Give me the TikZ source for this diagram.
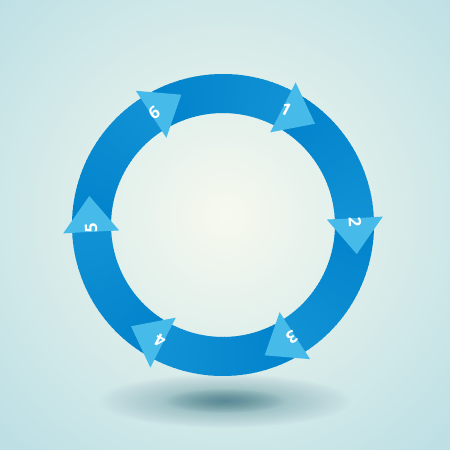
\documentclass[tikz,border=0pt]{standalone}
\usepackage{fontspec}
\setsansfont{Open Sans}
\usepackage{tikz}
\definecolor{bgin}{HTML}{F7F9EF}
\definecolor{bgout}{HTML}{BEE0E5}
\definecolor{ringdark}{HTML}{0082CB}
\definecolor{ringlight}{HTML}{3AB7EB}
\definecolor{headfill}{HTML}{46BBEA}
\definecolor{shadowcol}{HTML}{3C7888}

\begin{document}
\begin{tikzpicture}[
			x=1pt, y=1pt,
			H/.style = {fill=headfill},% arrow heads on the ring
			N/.style = {text=white, inner sep=0pt,
				font=\sffamily\bfseries\fontsize{17}{17}\selectfont},
			]
			\useasboundingbox (0,0) rectangle (450,450);
			\begin{scope}
				\clip (0,0) rectangle (450,450);
				\fill[bgout] (0,0) rectangle (450,450);
				\shade[inner color=bgin, outer color=bgout] (225,235) circle[radius=310];
			\end{scope}
			% soft shadow below the ring: wide halo, then darker core
			\foreach \k in {1,...,30}
			\fill[shadowcol, opacity=0.02] (225,49) ellipse[x radius=4.2*\k, y radius=0.9*\k];
			\foreach \k in {1,...,20}
			\fill[shadowcol, opacity=0.035] (225,49) ellipse[x radius=3*\k, y radius=0.6*\k];
			\begin{scope}[shift={(223,225)}]
				% ring, one segment after each head, dark to light
				\foreach \a in {63,3,-57,-117,-177,123}
				\foreach \j [evaluate=\j as \p using \j*100/29] in {0,...,29}
				\fill[ringlight!\p!ringdark] (\a-2*\j:112) arc[start angle=\a-2*\j, end angle=\a-2*\j-2.5, radius=112]
					-- (\a-2*\j-2.5:151) arc[start angle=\a-2*\j-2.5, end angle=\a-2*\j, radius=151] -- cycle;
				\foreach \a [count=\i] in {63,3,-57,-117,-177,123}{
					\fill[H, rotate=\a] (104,0) -- (160,0) -- (132,-36) -- cycle;
					\node[N, rotate=\a-90] (n\i) at (\a-1.5:132) {\i};
				}
			\end{scope}
		\end{tikzpicture}
\end{document}
